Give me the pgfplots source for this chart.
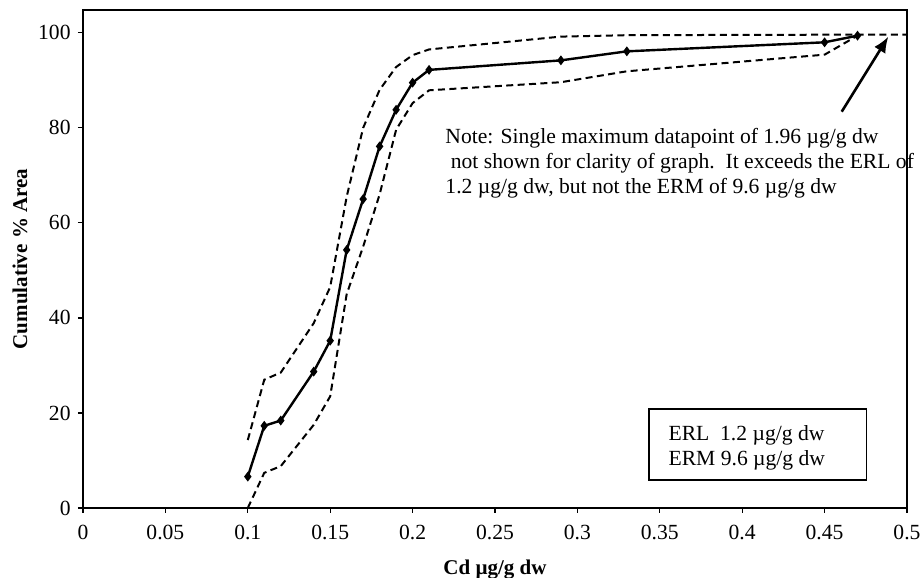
\documentclass[border=0pt]{standalone}
\usepackage{fontspec}
\setmainfont{Liberation Serif}
\usepackage{pgfplots}
\pgfplotsset{compat=1.18}
\usetikzlibrary{arrows.meta}
\begin{document}
\fontsize{10.5}{12.5}\selectfont
\begin{tikzpicture}
\useasboundingbox (-41.5pt,-35pt) rectangle (420pt,254pt);
\begin{axis}[
  scale only axis,
  width=412pt, height=249pt,
  xmin=0, xmax=0.5, ymin=0, ymax=104.8,
  clip=false,
  axis line style={line width=0.8pt},
  tick style={black, line width=0.6pt},
  tick align=outside,
  major tick length=2.5pt,
  xtick pos=bottom, ytick pos=left,
  xtick={0,0.05,0.1,0.15,0.2,0.25,0.3,0.35,0.4,0.45,0.5},
  xticklabels={0,0.05,0.1,0.15,0.2,0.25,0.3,0.35,0.4,0.45,0.5},
  ytick={0,20,40,60,80,100},
  yticklabels={0,20,40,60,80,100},
  tick label style={font=\fontsize{10.8}{12.5}\selectfont},
  xticklabel style={yshift=-2.5pt},
  every axis x label/.style={at={(axis description cs:0.5,-0.1235)},anchor=center},
  every axis y label/.style={at={(axis description cs:-0.0765,0.5)},rotate=90,anchor=center},
  xlabel={\bfseries Cd µg/g dw},
  ylabel={\bfseries Cumulative \% Area},
  label style={font=\fontsize{10.5}{12.5}\selectfont\bfseries},
]
\addplot[black, line width=1.2pt, mark=diamond*, mark size=1.5pt] coordinates {
(0.10,6.6) (0.11,17.3) (0.12,18.4) (0.14,28.7) (0.15,35.2) (0.16,54.3)
(0.17,65.0) (0.18,76.1) (0.19,83.8) (0.20,89.5) (0.21,92.2) (0.29,94.2)
(0.33,96.1) (0.45,98.0) (0.47,99.4)};
\addplot[black, line width=1pt, dash pattern=on 3.5pt off 2.2pt] coordinates {
(0.10,14.3) (0.11,27.0) (0.12,28.5) (0.14,38.9) (0.15,46.5) (0.16,65.5)
(0.17,80.0) (0.18,88.0) (0.19,92.8) (0.20,95.3) (0.21,96.5) (0.29,99.2)
(0.33,99.5) (0.45,99.6) (0.47,99.6) (0.50,99.6)};
\addplot[black, line width=1pt, dash pattern=on 3.5pt off 2.2pt] coordinates {
(0.10,0) (0.11,7.4) (0.12,8.8) (0.14,17.5) (0.15,23.5) (0.16,45.0)
(0.17,55.0) (0.18,66.0) (0.19,79.6) (0.20,85.2) (0.21,87.9) (0.29,89.6)
(0.33,91.9) (0.45,95.4) (0.47,99.4)};
\draw[black, line width=1.3pt, -{Latex[length=8pt,width=6.5pt]}] (axis cs:0.4604,83.4) -- (axis cs:0.4887,99.2);
\node[anchor=north west, align=left, inner sep=0pt, font=\fontsize{10.8}{12.5}\selectfont] at (axis cs:0.2197,79.9)
{Note: Single maximum datapoint of 1.96 µg/g dw\\
\ not shown for clarity of graph.\ \ It exceeds the ERL of\\
1.2 µg/g dw, but not the ERM of 9.6 µg/g dw};
\draw[black, line width=0.8pt] (axis cs:0.3436,5.9) rectangle (axis cs:0.4755,20.8);
\node[anchor=west, align=left, inner sep=0pt, font=\fontsize{10.8}{12.5}\selectfont] at (axis cs:0.3551,12.75)
{ERL\ \ 1.2 µg/g dw\\ ERM 9.6 µg/g dw};
\end{axis}
\end{tikzpicture}
\end{document}
